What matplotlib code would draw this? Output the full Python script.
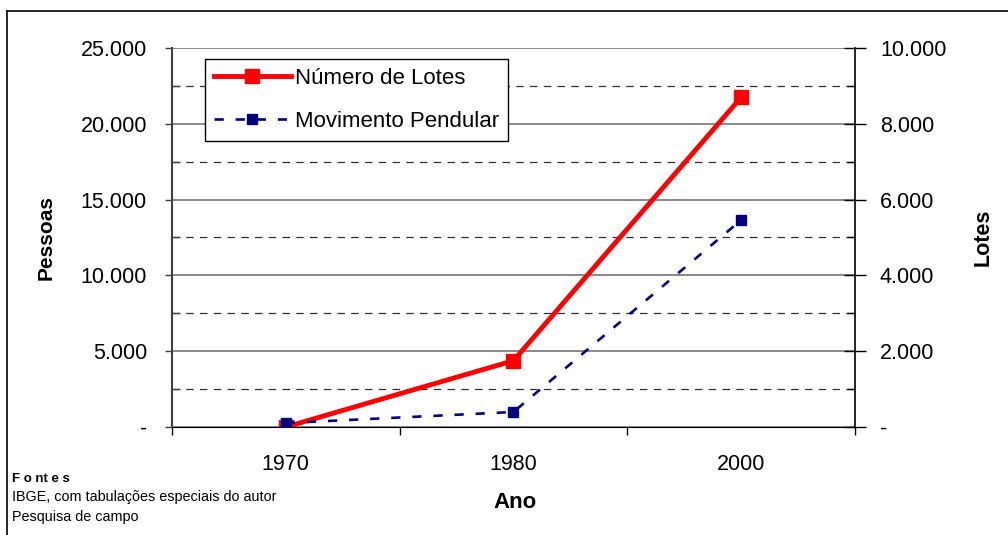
import matplotlib.pyplot as plt
from matplotlib.ticker import FuncFormatter, MultipleLocator, FixedLocator
from matplotlib.lines import Line2D

plt.rcParams['font.family'] = ['Liberation Sans', 'DejaVu Sans']

anos = ["1970", "1980", "2000"]
lotes = [0, 1750, 8700]          # Número de Lotes (eixo direito)
pendular = [260, 990, 13650]     # Movimento Pendular (eixo esquerdo)


def fmt(v, pos):
    if v == 0:
        return "-"
    return f"{int(v):,}".replace(",", ".")


fig = plt.figure(figsize=(10.08, 5.35), dpi=100)
ax = fig.add_axes([0.1706, 0.2019, 0.6776, 0.7084])
ax2 = ax.twinx()
# left axes (blue series) on top of the right one
ax.set_zorder(ax2.get_zorder() + 1)
ax.patch.set_visible(False)

x = list(range(len(anos)))

# grid lines (drawn on the right axis, 2.000 = 5.000)
for v in range(0, 10001, 2000):
    ax2.axhline(v, color="#808080", lw=1.3, zorder=0)
for v in range(1000, 10000, 2000):
    ax2.axhline(v, color="#303030", lw=0.9, ls=(0, (6, 5)), zorder=0)

dash = (0, (3.5, 4.5))
ax.plot(x, pendular, color="#000080", lw=1.9, ls=dash,
        marker="s", ms=7, zorder=3)
ax2.plot(x, lotes, color="#ff0000", lw=3.5, marker="s", ms=10, zorder=4)

ax.set_xlim(-0.5, 2.5)
ax.set_ylim(0, 25000)
ax2.set_ylim(0, 10000)

ax.xaxis.set_major_locator(FixedLocator([-0.5, 0.5, 1.5, 2.5]))
ax.xaxis.set_minor_locator(FixedLocator(x))
ax.set_xticklabels([], minor=False)
ax.set_xticklabels(anos, minor=True)
ax.tick_params(axis="x", which="major", direction="out", length=6, width=1, color="black")
ax.tick_params(axis="x", which="minor", length=0, pad=19.5, labelsize=15.5)

ax.yaxis.set_major_locator(MultipleLocator(5000))
ax.yaxis.set_minor_locator(MultipleLocator(2500))
ax.yaxis.set_major_formatter(FuncFormatter(fmt))
ax.tick_params(axis="y", which="major", direction="out", length=5, width=1,
               color="#404040", labelsize=15.5, pad=13)
ax.tick_params(axis="y", which="minor", direction="in", length=6, width=1, color="#404040")

ax2.yaxis.set_major_locator(MultipleLocator(2000))
ax2.yaxis.set_minor_locator(MultipleLocator(1000))
ax2.yaxis.set_major_formatter(FuncFormatter(fmt))
ax2.tick_params(axis="y", which="major", direction="inout", length=16, width=1,
                color="black", labelsize=15.5, pad=10)
ax2.tick_params(axis="y", which="minor", direction="in", length=6, width=1, color="black")

for a in (ax, ax2):
    a.spines["top"].set_visible(False)
ax.spines["left"].set_color("#404040")
ax.spines["left"].set_linewidth(1.5)
ax2.spines["right"].set_color("black")
ax2.spines["right"].set_linewidth(1.2)
ax2.spines["left"].set_visible(False)
ax.spines["right"].set_visible(False)
ax.spines["bottom"].set_color("black")
ax2.spines["bottom"].set_visible(False)

ax.set_xlabel("Ano", fontsize=16, fontweight="bold")
ax.set_ylabel("Pessoas", fontsize=15, fontweight="bold")
ax2.set_ylabel("Lotes", fontsize=15.5, fontweight="bold")
ax.xaxis.set_label_coords(0.503, -0.172)
ax.yaxis.set_label_coords(-0.171, 0.5)
ax2.yaxis.set_label_coords(1.172, 0.5)

handles = [
    Line2D([], [], color="#ff0000", lw=3.5, marker="s", ms=10),
    Line2D([], [], color="#000080", lw=1.9, ls=dash, marker="s", ms=7),
]
leg = ax.legend(handles, ["Número de Lotes", "Movimento Pendular"],
                loc="upper left", bbox_to_anchor=(205 / 1008, 1 - 59 / 535),
                bbox_transform=fig.transFigure, fontsize=16, frameon=True,
                fancybox=False, edgecolor="black", framealpha=1,
                handlelength=3.45, handletextpad=0.2, labelspacing=1.0,
                borderpad=0.4, borderaxespad=0)
leg.get_frame().set_linewidth(1.0)

fig.text(12 / 1008, 1 - 479 / 535, "F o nt e s", fontsize=9.5, fontweight="bold", va="center")
fig.text(12 / 1008, 1 - 497 / 535, "IBGE, com tabulações especiais do autor", fontsize=10.4, va="center")
fig.text(12 / 1008, 1 - 517 / 535, "Pesquisa de campo", fontsize=10.4, va="center")

fig.add_artist(Line2D([7 / 1008, 1], [1 - 11 / 535, 1 - 11 / 535], color="black", lw=1.2))
fig.add_artist(Line2D([7 / 1008, 7 / 1008], [0, 1 - 11 / 535], color="black", lw=1.2))

fig.savefig("out.png", dpi=100)
